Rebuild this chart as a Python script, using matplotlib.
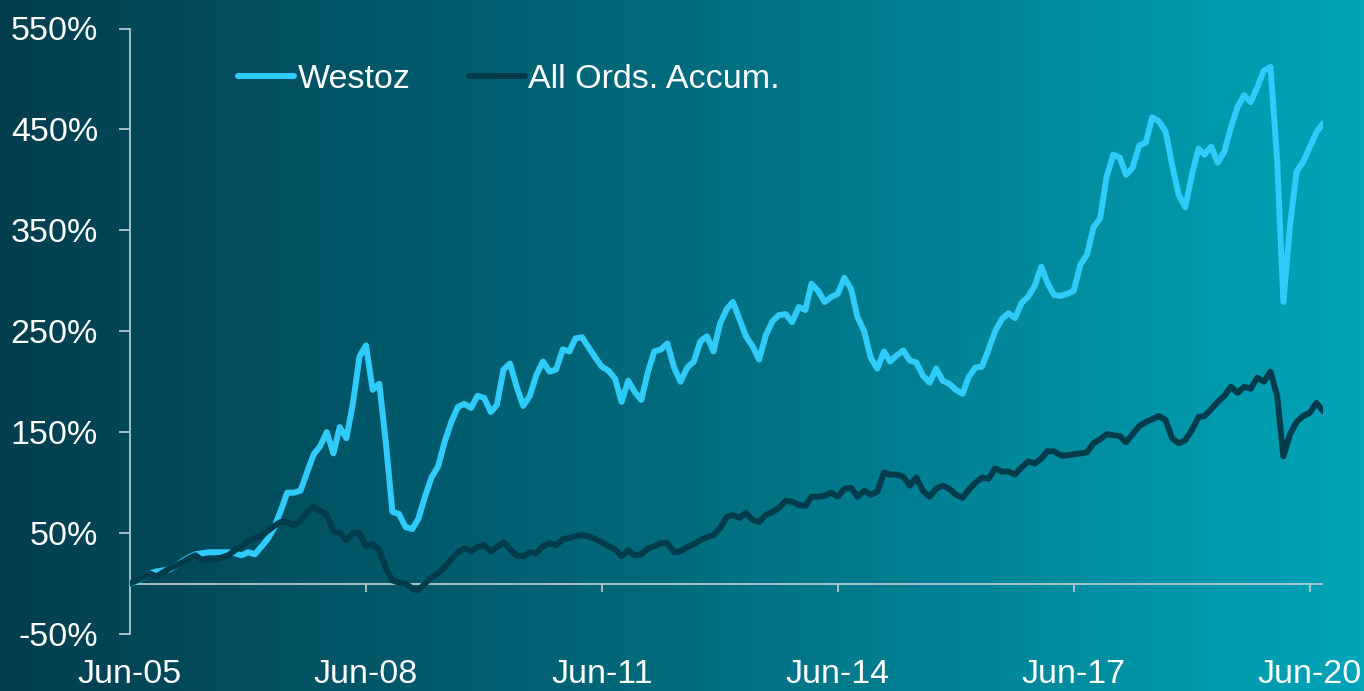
import matplotlib
matplotlib.use("Agg")
import matplotlib.pyplot as plt
import matplotlib.dates as mdates
import numpy as np
import pandas as pd
from matplotlib.colors import LinearSegmentedColormap

# monthly cumulative returns (%) from Jun-05 to Aug-20
dates = pd.date_range("2005-06-30", periods=183, freq="ME")

westoz = [
    0, 2, 6, 10, 12, 13, 14, 18, 22, 26, 29, 30, 31, 31, 31, 31, 30, 28, 31, 29,
    36, 44, 55, 72, 90, 90, 92, 110, 128, 136, 150, 129, 155, 144, 178, 225, 236, 192, 198, 140,
    71, 69, 56, 54, 64, 86, 105, 116, 140, 160, 175, 178, 174, 186, 184, 170, 177, 212, 218, 195,
    176, 186, 207, 220, 210, 212, 232, 230, 243, 244, 234, 224, 215, 211, 203, 180, 201, 190, 182, 210,
    230, 232, 238, 214, 200, 214, 220, 240, 245, 230, 258, 272, 279, 262, 245, 235, 222, 246, 260, 266,
    267, 259, 274, 271, 297, 290, 279, 284, 287, 303, 292, 264, 250, 224, 213, 230, 220, 226, 231, 221,
    219, 206, 199, 213, 201, 198, 192, 188, 205, 214, 215, 232, 250, 262, 268, 263, 278, 284, 295, 314,
    298, 286, 285, 287, 290, 316, 326, 353, 362, 403, 425, 422, 405, 412, 434, 437, 462, 458, 448, 415,
    385, 373, 405, 431, 425, 433, 417, 428, 452, 472, 484, 477, 492, 508, 512, 420, 279, 355, 408, 418,
    432, 447, 456,
]

all_ords = [
    0, 3, 6, 10, 7, 11, 15, 18, 21, 25, 28, 23, 24, 24, 26, 28, 33, 37, 42, 45,
    47, 52, 57, 61, 61, 58, 62, 71, 76, 72, 68, 52, 50, 43, 50, 50, 37, 39, 33, 15,
    3, 1, 0, -5, -7, 0, 6, 10, 16, 24, 31, 35, 32, 36, 38, 32, 36, 41, 34, 28,
    27, 31, 30, 37, 40, 38, 44, 45, 47, 48, 47, 44, 41, 37, 34, 27, 33, 28, 29, 35,
    37, 40, 40, 31, 32, 36, 39, 43, 46, 48, 55, 66, 68, 65, 70, 63, 61, 68, 71, 75,
    82, 81, 78, 77, 86, 86, 87, 90, 86, 94, 95, 86, 92, 88, 91, 110, 108, 108, 106, 97,
    105, 92, 86, 94, 97, 94, 88, 85, 93, 100, 105, 104, 114, 111, 111, 108, 115, 121, 119, 124,
    131, 131, 127, 127, 128, 129, 130, 139, 143, 148, 147, 146, 140, 148, 156, 160, 163, 166, 162, 144,
    139, 142, 152, 165, 166, 173, 180, 186, 195, 189, 195, 193, 204, 200, 210, 186, 126, 148, 160, 166,
    169, 179, 171,
]

yticks = [-50, 50, 150, 250, 350, 450, 550]
xtick_dates = pd.to_datetime(["2005-06-30", "2008-06-30", "2011-06-30",
                              "2014-06-30", "2017-06-30", "2020-06-30"])

plt.rcParams["font.family"] = ["Liberation Sans", "DejaVu Sans"]

W, H = 1364, 691
fig = plt.figure(figsize=(W / 100, H / 100), dpi=100)

# background gradient
bg = fig.add_axes([0, 0, 1, 1], zorder=-10)
cmap = LinearSegmentedColormap.from_list("bg", ["#023e4e", "#006c7e", "#00a5b9"])
bg.imshow(np.linspace(0, 1, 256)[None, :], aspect="auto", cmap=cmap,
          extent=[0, 1, 0, 1])
bg.set_axis_off()

ax = fig.add_axes([130 / W, 1 - 634 / H, (1323 - 130) / W, (634 - 28.5) / H])
ax.set_facecolor("none")

axis_col = "#b4c6cc"
white = "white"
fs = 24.5

ax.plot(dates, westoz, color="#2ecbfb", lw=4.3, solid_joinstyle="round",
        solid_capstyle="round", label="Westoz", zorder=3)
ax.plot(dates, all_ords, color="#013c4c", lw=4.3, solid_joinstyle="round",
        solid_capstyle="round", label="All Ords. Accum.", zorder=4)

ax.set_xlim(dates[0], dates[-1])
ax.set_ylim(-50, 550)

# zero line with its own tick marks
ax.axhline(0, color=axis_col, lw=1.3, zorder=2)
ax.vlines(xtick_dates[1:], -8, 0, color=axis_col, lw=1.3, zorder=2)

for s in ["top", "right", "bottom"]:
    ax.spines[s].set_visible(False)
ax.spines["left"].set_color(axis_col)
ax.spines["left"].set_linewidth(1.3)

ax.set_yticks(yticks)
ax.set_yticklabels([f"{v}%" for v in yticks])
ax.tick_params(axis="y", direction="out", length=8, width=1.3, color=axis_col,
               labelcolor=white, labelsize=fs, pad=15)

ax.set_xticks(xtick_dates)
ax.xaxis.set_major_formatter(mdates.DateFormatter("%b-%y"))
ax.tick_params(axis="x", length=0, labelcolor=white, labelsize=fs, pad=18)

leg = fig.legend(loc="center left", bbox_to_anchor=(238 / W, 1 - 79 / H),
                 ncol=2, frameon=False, fontsize=fs, handlelength=1.65,
                 handletextpad=0.1, columnspacing=1.72, borderpad=0,
                 borderaxespad=0)
for t in leg.get_texts():
    t.set_color(white)

fig.savefig("out.png", dpi=100)
